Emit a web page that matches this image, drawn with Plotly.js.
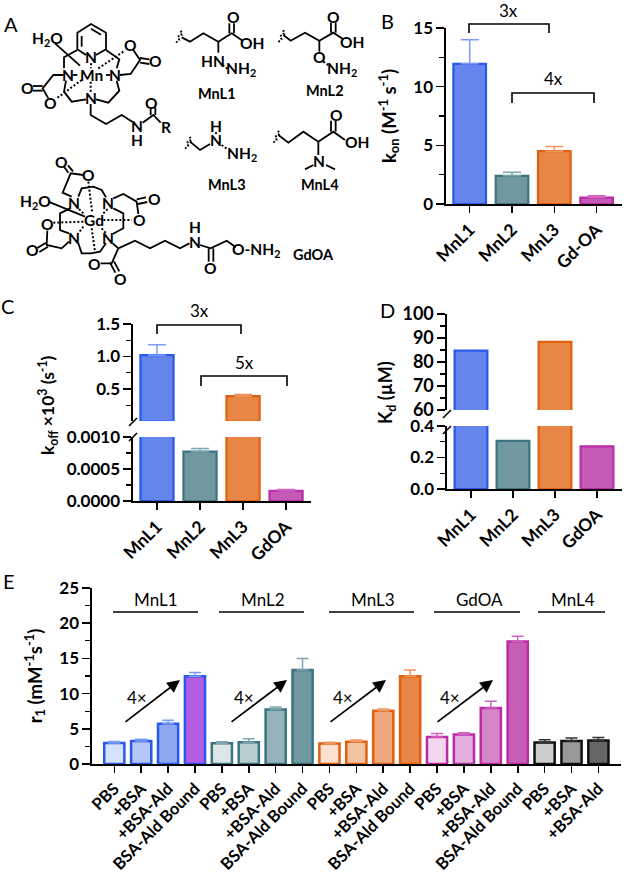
<!DOCTYPE html>
<html><head><meta charset="utf-8">
<script src="https://cdn.plot.ly/plotly-3.0.1.min.js"></script>
<style>html,body{margin:0;padding:0;background:#fff}</style></head>
<body><div id="chart" style="width:624px;height:875px"></div>
<script>
// ---------- data ----------
const konLabels = ['MnL1','MnL2','MnL3','Gd-OA'];
const konValues = [11.95,2.4,4.5,0.55];
const konErrors = [2.05,0.3,0.4,0.15];
const koffLabels = ['MnL1','MnL2','MnL3','GdOA'];
const koffValues = [1.02,0.00077,0.39,0.00016];
const koffErrors = [0.16,0.00005,0.025,0.00002];
const kdLabels = ['MnL1','MnL2','MnL3','GdOA'];
const kdValues = [84.7,0.305,88.4,0.27];
const r1MnL1 = [3.0,3.25,5.7,12.45];
const r1MnL1Err = [0.2,0.25,0.5,0.55];
const r1MnL2 = [2.95,3.1,7.75,13.35];
const r1MnL2Err = [0.2,0.5,0.35,1.65];
const r1MnL3 = [2.9,3.15,7.55,12.45];
const r1MnL3Err = [0.2,0.25,0.25,0.9];
const r1GdOA = [3.85,4.2,7.95,17.4];
const r1GdOAErr = [0.5,0.25,0.95,0.75];
const r1MnL4 = [3.05,3.25,3.35];
const r1MnL4Err = [0.4,0.45,0.4];
const conditionLabels = ['PBS','+BSA','+BSA-Ald','BSA-Ald Bound'];
const groupNames = ['MnL1','MnL2','MnL3','GdOA','MnL4'];

// ---------- styles ----------
const W=624,H=875,FONT='Lato, "Open Sans", sans-serif';
const px=x=>x/W, py=y=>1-y/H;
const dx=(a,b)=>[px(a),px(b)], dy=(top,bot)=>[py(bot),py(top)];
const seriesStyle={
  blue:{fill:'#6484EE',line:'#2A58EA',err:'#7C9BF4'},
  teal:{fill:'#71989F',line:'#3B7581',err:'#7FA6AE'},
  orange:{fill:'#E78646',line:'#E0600F',err:'#EE9560'},
  magenta:{fill:'#C35AB5',line:'#BA2BA5',err:'#CF62C0'},
  black:{fill:'#666666',line:'#111111',err:'#333333'}
};
const order=['blue','teal','orange','magenta'];
const e1Fills={
  blue:['#D6E1FB','#B4C5F6','#8DA7F0','#B55CE4'],
  teal:['#DCE6E8','#B9CCD0','#95B3B9','#71989F'],
  orange:['#FBE1D1','#F3C4A3','#EDA97B','#E78646'],
  magenta:['#F3D7EE','#E4AFDC','#D586C9','#C75EB6'],
  black:['#CCCCCC','#999999','#666666']
};
const axisCommon={showline:true,linecolor:'#000',linewidth:1.6,showgrid:false,zeroline:false,
  ticks:'outside',tickcolor:'#000',tickwidth:1.6,fixedrange:true};
function yAxis(domain,range,dtick,minor,anchor,fmt,size){
  return Object.assign({},axisCommon,{domain,range,dtick,tick0:0,ticklen:8,anchor,tickformat:fmt,
    tickfont:{family:FONT,size:size||17,color:'#000',weight:700},
    minor:{dtick:minor,tick0:0,ticks:'outside',ticklen:5,tickwidth:1.4,tickcolor:'#000',showgrid:false}});
}
function xAxis(domain,range,labels,anchor,size){
  return Object.assign({},axisCommon,{domain,range,anchor,tickmode:'array',
    tickvals:labels.map((_,i)=>i),ticktext:labels,ticklen:7,tickangle:-45,
    tickfont:{family:FONT,size,color:'#000',weight:700}});
}
function barTrace(labels,values,errors,st,idx,xa,ya,w){
  const t={type:'bar',x:[idx],y:[values[idx]],name:labels[idx],width:w,xaxis:xa,yaxis:ya,showlegend:false,
    marker:{color:st.fill,line:{color:st.line,width:2.2}}};
  if(errors) t.error_y={type:'data',symmetric:false,array:[errors[idx]],arrayminus:[0],color:st.err,thickness:1.5,width:9};
  return t;
}
const traces=[];
order.forEach((k,i)=>{
  traces.push(barTrace(konLabels,konValues,konErrors,seriesStyle[k],i,'x','y',0.77));
  traces.push(barTrace(koffLabels,koffValues,koffErrors,seriesStyle[k],i,'x2','y2',0.77));
  if(koffValues[i]>0.01) traces.push(barTrace(koffLabels,koffValues,koffErrors,seriesStyle[k],i,'x2','y3',0.77));
  traces.push(barTrace(kdLabels,kdValues,null,seriesStyle[k],i,'x3','y4',0.78));
  if(kdValues[i]>60) traces.push(barTrace(kdLabels,kdValues,null,seriesStyle[k],i,'x3','y5',0.78));
});
// panel E, one trace per group
const r1Sets=[[r1MnL1,r1MnL1Err,'blue'],[r1MnL2,r1MnL2Err,'teal'],[r1MnL3,r1MnL3Err,'orange'],[r1GdOA,r1GdOAErr,'magenta'],[r1MnL4,r1MnL4Err,'black']];
const r1Ticks=[];
let pos=0;
r1Sets.forEach(([v,e,k],g)=>{
  const xs=v.map((_,i)=>pos+i);
  v.forEach((_,i)=>r1Ticks.push(conditionLabels[i]));
  traces.push({type:'bar',x:xs,y:v,name:groupNames[g],width:0.75,xaxis:'x4',yaxis:'y6',showlegend:false,
    marker:{color:e1Fills[k],line:{color:seriesStyle[k].line,width:2.5}},
    error_y:{type:'data',symmetric:false,array:e,arrayminus:v.map(()=>0),color:seriesStyle[k].err,thickness:1.5,width:6}});
  pos+=v.length;
});

// ---------- drawing helpers (annotation and shapes in page pixels) ----------
const annotations=[], shapes=[];
function label(x,y,text,size,weight,extra){
  annotations.push(Object.assign({xref:'paper',yref:'paper',x:px(x),y:py(y),text,showarrow:false,
    xanchor:'center',yanchor:'middle',font:{family:FONT,size,color:'#000',weight:weight||400}},extra||{}));
}
function poly(points,width,dash){
  const d=points.map((p,i)=>(i?'L':'M')+px(p[0])+' '+py(p[1])).join(' ');
  shapes.push({type:'path',xref:'paper',yref:'paper',path:d,line:{color:'#000',width:width||1.6,dash:dash||'solid'}});
}
function arrow(x0,y0,x1,y1){
  annotations.push({xref:'paper',yref:'paper',x:px(x1),y:py(y1),ax:x0-x1,ay:y0-y1,text:'',showarrow:true,
    arrowhead:2,arrowsize:1.5,arrowwidth:1.7,arrowcolor:'#000'});
}

// panel letters
[['A',11,24],['B',387,21],['C',7,306],['D',387,310],['E',9,581]].forEach(a=>label(a[1],a[2],a[0],20));

// panel B/C brackets
poly([[469,33],[469,24],[549,24],[549,33]]);
poly([[512,103],[512,93],[594,93],[594,103]]);
label(508,11,'3x',17); label(553,78,'4x',17);
poly([[157,334],[157,325],[241,325],[241,334]]);
poly([[201,386],[201,376],[287,376],[287,386]]);
label(199,310,'3x',17); label(244,362,'5x',17);
// axis breaks
poly([[129,426],[137,418]]); poly([[129,441],[137,433]]);
poly([[443,418],[451,410]]); poly([[443,434],[451,426]]);
// y titles placed across broken axes
label(48,405,'k<sub>off</sub> ×10<sup>3</sup> (s<sup>-1</sup>)',17.5,700,{textangle:-90});
label(387,393,'K<sub>d</sub> (µM)',18,700,{textangle:-90});
// panel E groups
[[113,198,156],[219,304,263],[329,414,373],[434,520,479],[538,605,573]].forEach((g,i)=>{
  poly([[g[0],612],[g[1],612]]); label(g[2],599,groupNames[i],17);
});
[[124,180,137],[230,287,244],[329,386,343],[436,493,450]].forEach(a=>{
  arrow(a[0],723,a[1],680); label(a[2],697,'4×',17);
});

// ---------- panel A: chemical structures, in 3x crop coordinates ----------
const z=p=>p.map(q=>[q[0]/3,q[1]/3]);
const bonds=[
 // Mn complex
 [[258,165],[232,148],[232,98],[273,72],[318,98],[318,148],[288,165]],
 [[245,108],[245,140]],[[273,86],[303,104]],
 [[165,130],[240,197]],
 [[232,150],[192,172],[192,205]],[[318,150],[358,178],[350,205]],
 [[218,225],[232,225]],[[318,225],[330,225]],
 [[360,225],[392,222],[420,180],[400,150]],[[420,174],[448,178]],[[420,188],[448,192]],
 [[190,225],[160,225],[128,265],[145,295]],[[128,258],[98,258]],[[128,272],[98,272]],
 [[198,242],[192,275],[215,305],[258,298]],[[350,242],[358,272],[325,308],[288,298]],
 [[272,312],[272,345],[318,372],[365,345],[398,366]],
 [[428,368],[460,345],[482,368]],[[452,345],[452,322]],[[466,345],[466,322]],
 // MnL1
 [[545,112],[570,125],[610,100],[655,125],[695,100],[728,122]],[[688,100],[688,70]],[[702,100],[702,70]],[[655,125],[655,158]],
 // MnL2
 [[850,105],[872,122],[915,98],[958,122],[1000,98],[1030,118]],[[993,98],[993,68]],[[1007,98],[1007,68]],[[958,122],[958,155]],
 // MnL3
 [[570,425],[600,450],[630,432]],[[648,402],[648,396]],
 // MnL4
 [[835,405],[865,428],[910,395],[955,425],[1000,395],[1035,420]],[[993,395],[993,362]],[[1007,395],[1007,362]],[[955,425],[955,465]],
 [[940,495],[915,508]],[[978,495],[1005,508]],
 // GdOA
 [[145,605],[255,650]],
 [[235,590],[245,565],[280,560],[305,570],[318,592]],
 [[340,625],[370,640],[370,685],[338,702]],
 [[235,730],[245,760],[272,760],[300,755],[318,730]],
 [[207,700],[180,690],[180,640],[210,625]],
 [[215,590],[188,578],[212,520],[250,525]],[[205,518],[192,500]],[[219,514],[204,496]],
 [[340,595],[370,582],[410,605],[415,642]],[[410,598],[438,592]],[[414,612],[442,606]],
 [[207,725],[185,745],[140,735],[142,692]],[[138,728],[112,744]],[[144,740],[118,756]],
 [[338,730],[355,745],[335,790],[302,790]],[[330,788],[346,818]],[[342,784],[358,814]],
 [[355,745],[405,722],[450,745],[495,722],[540,745],[568,730]],
 [[600,735],[632,745],[680,722],[708,742]],[[626,745],[626,785]],[[640,745],[640,785]]
];
bonds.forEach(b=>poly(z(b),1.8));
const dotted=[
 [[295,205],[370,155]],[[245,240],[170,295]],
 [[273,190],[273,205]],[[272,245],[272,280]],
 [[265,545],[277,640]],[[310,660],[395,660]],[[160,668],[255,665]],[[275,685],[285,755]],
 [[250,640],[235,625]],[[310,640],[325,625]],[[250,680],[235,700]],[[305,685],[318,700]],
 [[668,195],[682,206]],[[970,185],[986,196]],[[665,435],[680,446]]
];
dotted.forEach(b=>poly(z(b),2,'2px,2px'));
const squiggles=[[[528,128],[538,120],[533,110],[545,105],[540,96],[552,92]],[[835,126],[845,118],[840,108],[852,103],[847,94],[858,90]],
 [[555,446],[565,438],[560,428],[572,423],[567,414],[578,410]],[[820,428],[830,420],[825,410],[837,405],[832,396],[843,392]]];
squiggles.forEach(b=>poly(z(b),1.8,'2px,2px'));
const atoms=[
 ['H<sub>2</sub>O',142,118],['N',273,172],['N',203,225],['Mn',275,225],['N',345,225],['O',392,135],['O',465,182],['O',82,265],['O',152,310],['N',272,295],
 ['O',455,310],['N',412,378],['H',412,420],['R',497,382],
 ['O',700,52],['OH',757,128],['HN',640,182],['NH<sub>2</sub>',722,207],
 ['O',1000,50],['OH',1057,125],['O',958,172],['NH<sub>2</sub>',1025,207],
 ['H',648,378],['N',648,420],['NH<sub>2</sub>',725,462],
 ['O',1008,345],['OH',1070,425],['N',958,483],
 ['O',185,485],['O',265,525],['H<sub>2</sub>O',107,605],['N',222,608],['N',325,608],['O',463,598],['O',142,672],['Gd',283,660],['O',418,660],['N',222,715],['N',325,715],
 ['O',97,750],['O',285,792],['O',362,838],['H',585,682],['N',585,725],['O',632,803],['O-NH<sub>2</sub>',770,750]
];
atoms.forEach(a=>label(a[1]/3,a[2]/3,a[0],15.5,700));
[['MnL1',652,280],['MnL2',975,272],['MnL3',680,553],['MnL4',960,553],['GdOA',940,763]].forEach(a=>label(a[1]/3,a[2]/3,a[0],14.5,700));

// ---------- layout ----------
const titleFont={family:FONT,size:18.5,weight:700,color:'#000'};
const layout={
  width:W,height:H,margin:{l:0,r:0,t:0,b:0,pad:0},paper_bgcolor:'#fff',plot_bgcolor:'rgba(0,0,0,0)',
  barmode:'overlay',showlegend:false,font:{family:FONT,color:'#000'},
  xaxis:xAxis(dx(446,622),[-0.56,3.60],konLabels,'y',17.5),
  yaxis:Object.assign(yAxis(dy(28,204),[0,15],5,2.5,'x'),{title:{text:'k<sub>on</sub> (M<sup>-1</sup> s<sup>-1</sup>)',font:titleFont,standoff:12}}),
  xaxis2:xAxis(dx(133,311),[-0.558,3.58],koffLabels,'y2',17.5),
  yaxis2:yAxis(dy(437,501),[0,0.001],0.0005,0.00025,'x2','.4f'),
  yaxis3:yAxis(dy(324,421),[0.008,1.5],0.5,0.25,'x2','.1f'),
  xaxis3:xAxis(dx(447,622),[-0.571,3.595],kdLabels,'y4',17.5),
  yaxis4:yAxis(dy(426,489),[0,0.4],0.2,0.1,'x3','.1f'),
  yaxis5:yAxis(dy(314,410),[60,100],10,5,'x3',undefined,18),
  xaxis4:xAxis(dx(92,621),[-0.829,18.84],r1Ticks,'y6',16.5),
  yaxis6:Object.assign(yAxis(dy(588,764),[0,25],5,2.5,'x4'),{title:{text:'r<sub>1</sub> (mM<sup>-1</sup>s<sup>-1</sup>)',font:titleFont,standoff:12}}),
  annotations,shapes
};
Plotly.newPlot('chart',traces,layout,{displayModeBar:false,staticPlot:true});
</script></body></html>
